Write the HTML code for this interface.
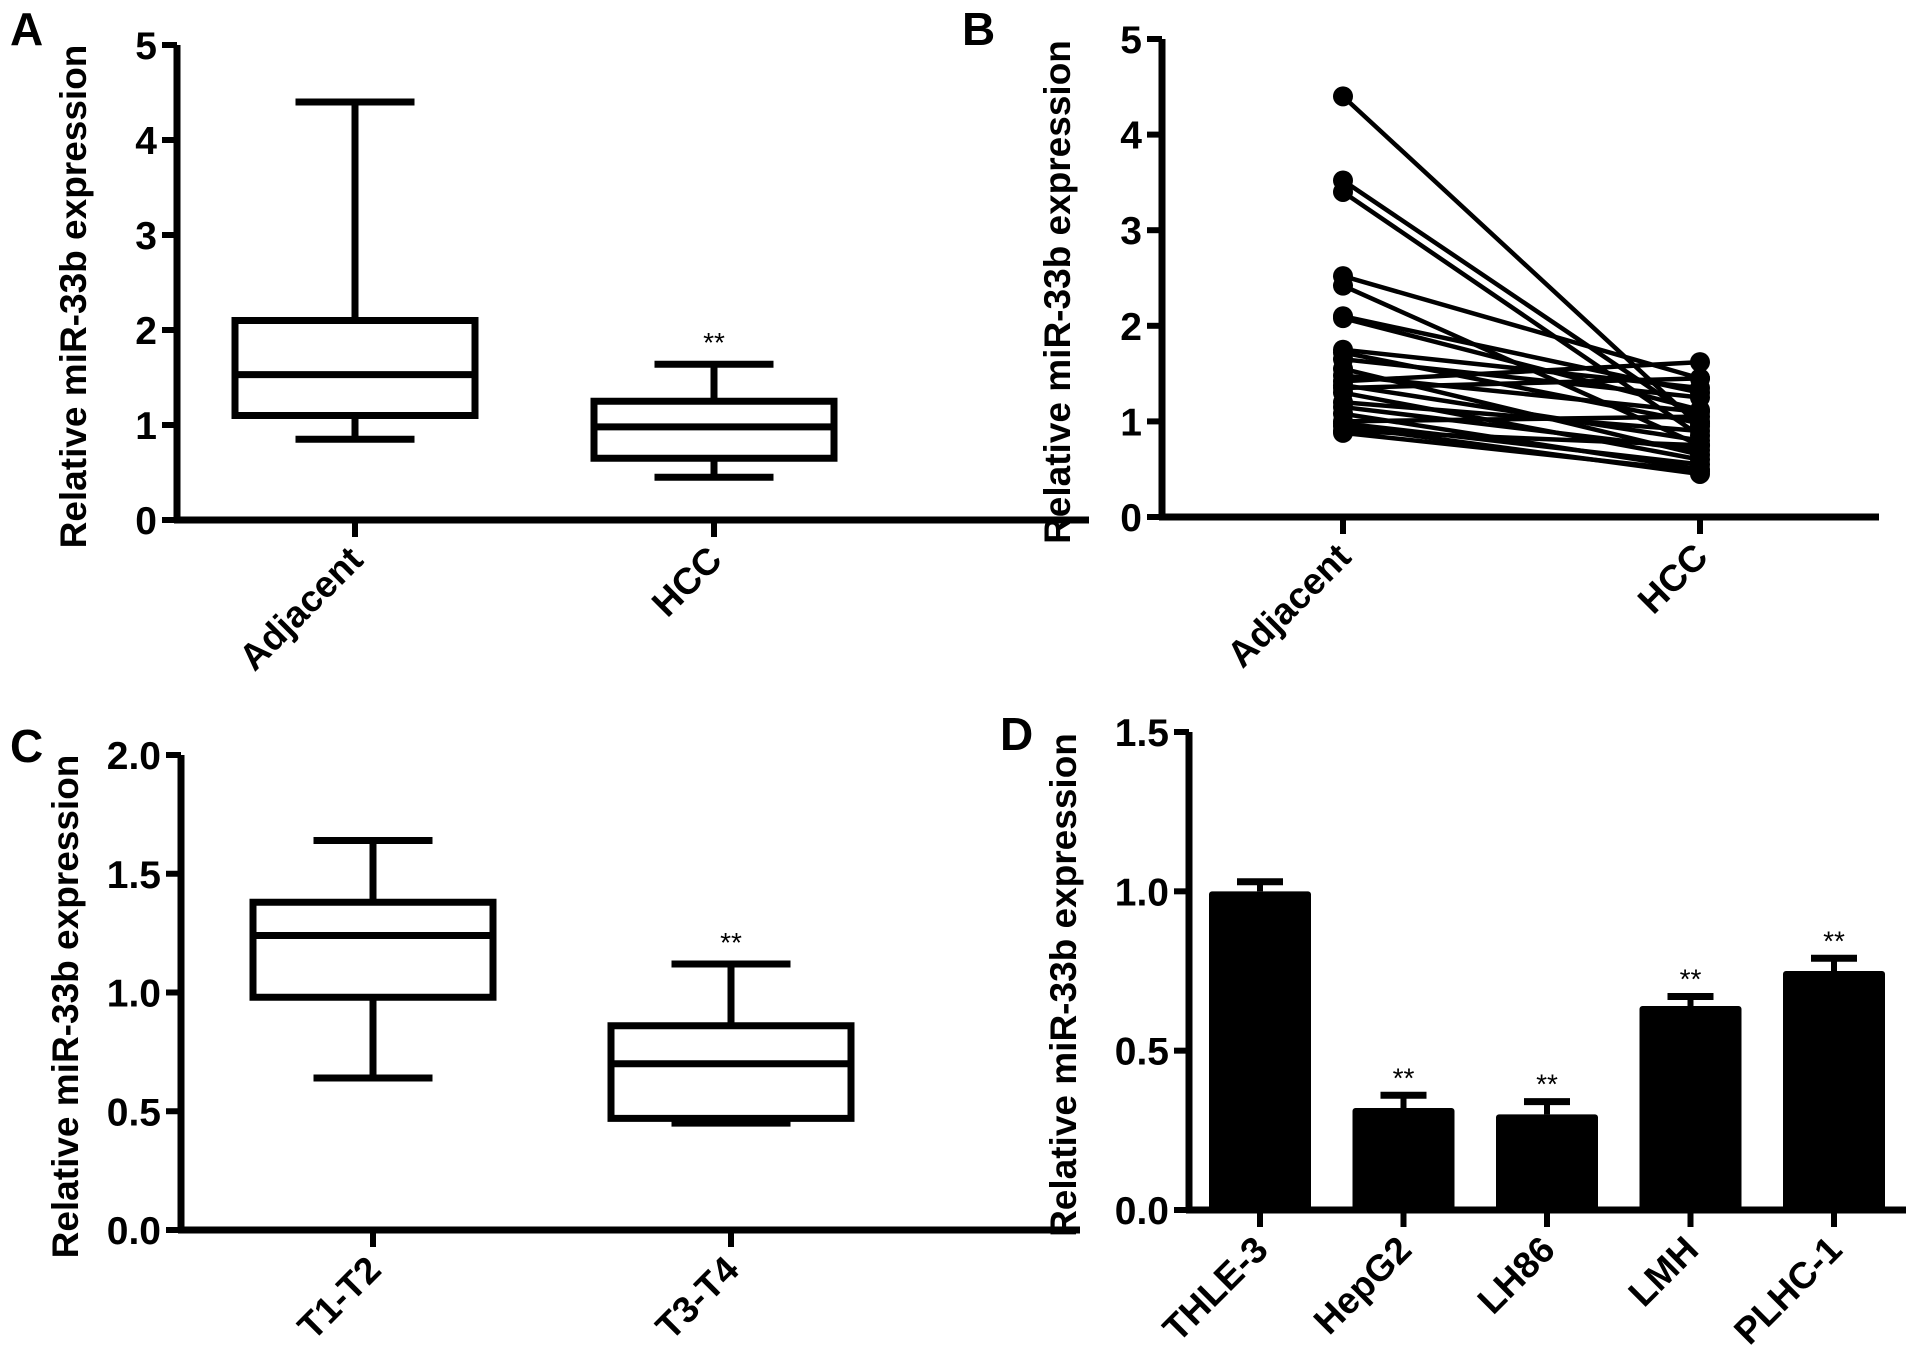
<!DOCTYPE html>
<html><head><meta charset="utf-8"><style>
html,body{margin:0;padding:0;background:#fff}
svg{display:block}
text{font-family:"Liberation Sans",Arial,sans-serif;fill:#000}
</style></head><body>
<svg id="fig" width="1913" height="1351" viewBox="0 0 1913 1351"></svg>
<script>
// Panel A data
const aCats=["Adjacent","HCC"];
const aWhiskLo=[0.85,0.45], aQ1=[1.1,0.65], aMed=[1.53,0.98], aQ3=[2.1,1.25], aWhiskHi=[4.4,1.64];
const aTicks=[0,1,2,3,4,5];
// Panel B data (paired)
const bCats=["Adjacent","HCC"];
const bAdj=[4.4,3.52,3.4,2.52,2.42,2.1,2.08,1.75,1.72,1.65,1.55,1.48,1.42,1.38,1.35,1.3,1.2,1.15,1.08,1.0,0.98,0.95,0.9,0.88];
const bHcc=[0.95,1.0,0.85,1.45,0.75,1.3,1.12,1.35,0.98,1.25,0.65,1.1,1.62,0.8,1.45,0.6,0.9,0.7,0.5,1.05,0.55,0.45,0.75,0.48];
const bTicks=[0,1,2,3,4,5];
// Panel C data
const cCats=["T1-T2","T3-T4"];
const cWhiskLo=[0.64,0.45], cQ1=[0.98,0.47], cMed=[1.24,0.70], cQ3=[1.38,0.86], cWhiskHi=[1.64,1.12];
const cTicks=[0,0.5,1.0,1.5,2.0];
// Panel D data
const dCats=["THLE-3","HepG2","LH86","LMH","PLHC-1"];
const dVals=[1.0,0.32,0.30,0.64,0.75];
const dErr=[0.03,0.04,0.04,0.03,0.04];
const dSig=["","**","**","**","**"];
const dTicks=[0,0.5,1.0,1.5];

const NS="http://www.w3.org/2000/svg";
const svg=document.getElementById('fig');
function mk(tag,attrs,parent,txt){const e=document.createElementNS(NS,tag);for(const k in attrs)e.setAttribute(k,attrs[k]);if(txt!==undefined)e.textContent=txt;(parent||svg).appendChild(e);return e;}
function grp(name){const g=mk('g',{});


return g;}

function axes(g,ax,yTop,y0,xEnd,ticks,ymax,fmt,catXs,cats,title,titleX){
  const sy=v=>y0-(v/ymax)*(y0-yTop);
  const yl=mk('line',{x1:ax,y1:yTop,x2:ax,y2:y0+3,stroke:'#000','stroke-width':7},g);
  
  
  const xl=mk('line',{x1:ax-3,y1:y0,x2:xEnd,y2:y0,stroke:'#000','stroke-width':7},g);
  
  
  ticks.forEach(t=>{
    mk('line',{x1:ax-15,y1:sy(t),x2:ax,y2:sy(t),stroke:'#000','stroke-width':6},g);
    const tx=mk('text',{x:ax-20,y:sy(t)+14,'text-anchor':'end','font-size':39,'font-weight':'bold'},g,fmt(t));
    
    
  });
  catXs.forEach((x,i)=>{
    mk('line',{x1:x,y1:y0,x2:x,y2:y0+17,stroke:'#000','stroke-width':6},g);
    const tx=mk('text',{x:x+10,y:y0+42,'text-anchor':'end','font-size':37,'font-weight':'bold',transform:`rotate(-45 ${x+10} ${y0+42})`},g,cats[i]);
    
    
  });
  const cy=(yTop+y0)/2+14;
  const tt=mk('text',{x:titleX,y:cy,'text-anchor':'middle','font-size':37,'font-weight':'bold',transform:`rotate(-90 ${titleX} ${cy})`},g,title);
  
  
  return sy;
}
function boxes(g,sy,xs,bw,cw,lo,q1,med,q3,hi){
  xs.forEach((x,i)=>{
    const b=grp('box-'+i); g.appendChild(b);
    const st={stroke:'#000','stroke-width':7,fill:'none'};
    mk('line',Object.assign({x1:x,y1:sy(hi[i]),x2:x,y2:sy(q3[i])},st),b);
    mk('line',Object.assign({x1:x,y1:sy(q1[i]),x2:x,y2:sy(lo[i])},st),b);
    mk('line',Object.assign({x1:x-cw/2,y1:sy(hi[i]),x2:x+cw/2,y2:sy(hi[i])},st),b);
    mk('line',Object.assign({x1:x-cw/2,y1:sy(lo[i]),x2:x+cw/2,y2:sy(lo[i])},st),b);
    mk('rect',Object.assign({x:x-bw/2,y:sy(q3[i]),width:bw,height:sy(q1[i])-sy(q3[i])},st),b);
    mk('line',Object.assign({x1:x-bw/2,y1:sy(med[i]),x2:x+bw/2,y2:sy(med[i])},st),b);
  });
}
const fmtInt=t=>String(t), fmt1=t=>t.toFixed(1);
const TITLE="Relative miR-33b expression";
function label(t,x,y){const e=mk('text',{x:x,y:y,'font-size':46,'font-weight':'bold'},svg,t);

}

// Panel A
let gA=grp('panel-a');
let syA=axes(gA,177,45,520,1089,aTicks,5,fmtInt,[355,714],aCats,TITLE,86);
boxes(gA,syA,[355,714],240,119,aWhiskLo,aQ1,aMed,aQ3,aWhiskHi);
let sA=mk('text',{x:714,y:syA(aWhiskHi[1])-12,'text-anchor':'middle','font-size':28},gA,'**');


label('A',10,45);

// Panel B
let gB=grp('panel-b');
let syB=axes(gB,1162,39,517,1879,bTicks,5,fmtInt,[1343,1700],bCats,TITLE,1070);
bAdj.forEach((v,i)=>{
  const l=mk('line',{x1:1343,y1:syB(v),x2:1700,y2:syB(bHcc[i]),stroke:'#000','stroke-width':4.5},gB);
  
  
  [[1343,v],[1700,bHcc[i]]].forEach(p=>{
    const c=mk('circle',{cx:p[0],cy:syB(p[1]),r:10,fill:'#000'},gB);
    
    
  });
});
label('B',962,45);

// Panel C
let gC=grp('panel-c');
let syC=axes(gC,181,755,1230,1080,cTicks,2,fmt1,[373,731],cCats,TITLE,78);
boxes(gC,syC,[373,731],240,119,cWhiskLo,cQ1,cMed,cQ3,cWhiskHi);
let sC=mk('text',{x:731,y:syC(cWhiskHi[1])-12,'text-anchor':'middle','font-size':28},gC,'**');


label('C',10,762);

// Panel D
let gD=grp('panel-d');
const dXs=dCats.map((c,i)=>1260+i*143.5);
let syD=axes(gD,1189,732,1210,1906,dTicks,1.5,fmt1,dXs,dCats,TITLE,1076);
dVals.forEach((v,i)=>{
  const x=dXs[i], bw=102;
  mk('line',{x1:x,y1:syD(v),x2:x,y2:syD(v+dErr[i]),stroke:'#000','stroke-width':6},gD);
  mk('line',{x1:x-23,y1:syD(v+dErr[i]),x2:x+23,y2:syD(v+dErr[i]),stroke:'#000','stroke-width':7},gD);
  const r=mk('rect',{x:x-bw/2,y:syD(v),width:bw,height:syD(0)-syD(v),fill:'#000',rx:3},gD);
  
  
  if(dSig[i]){const s=mk('text',{x:x,y:syD(v+dErr[i])-8,'text-anchor':'middle','font-size':28},gD,dSig[i]);
  
  }
});
label('D',1000,750);
</script>
</body></html>
